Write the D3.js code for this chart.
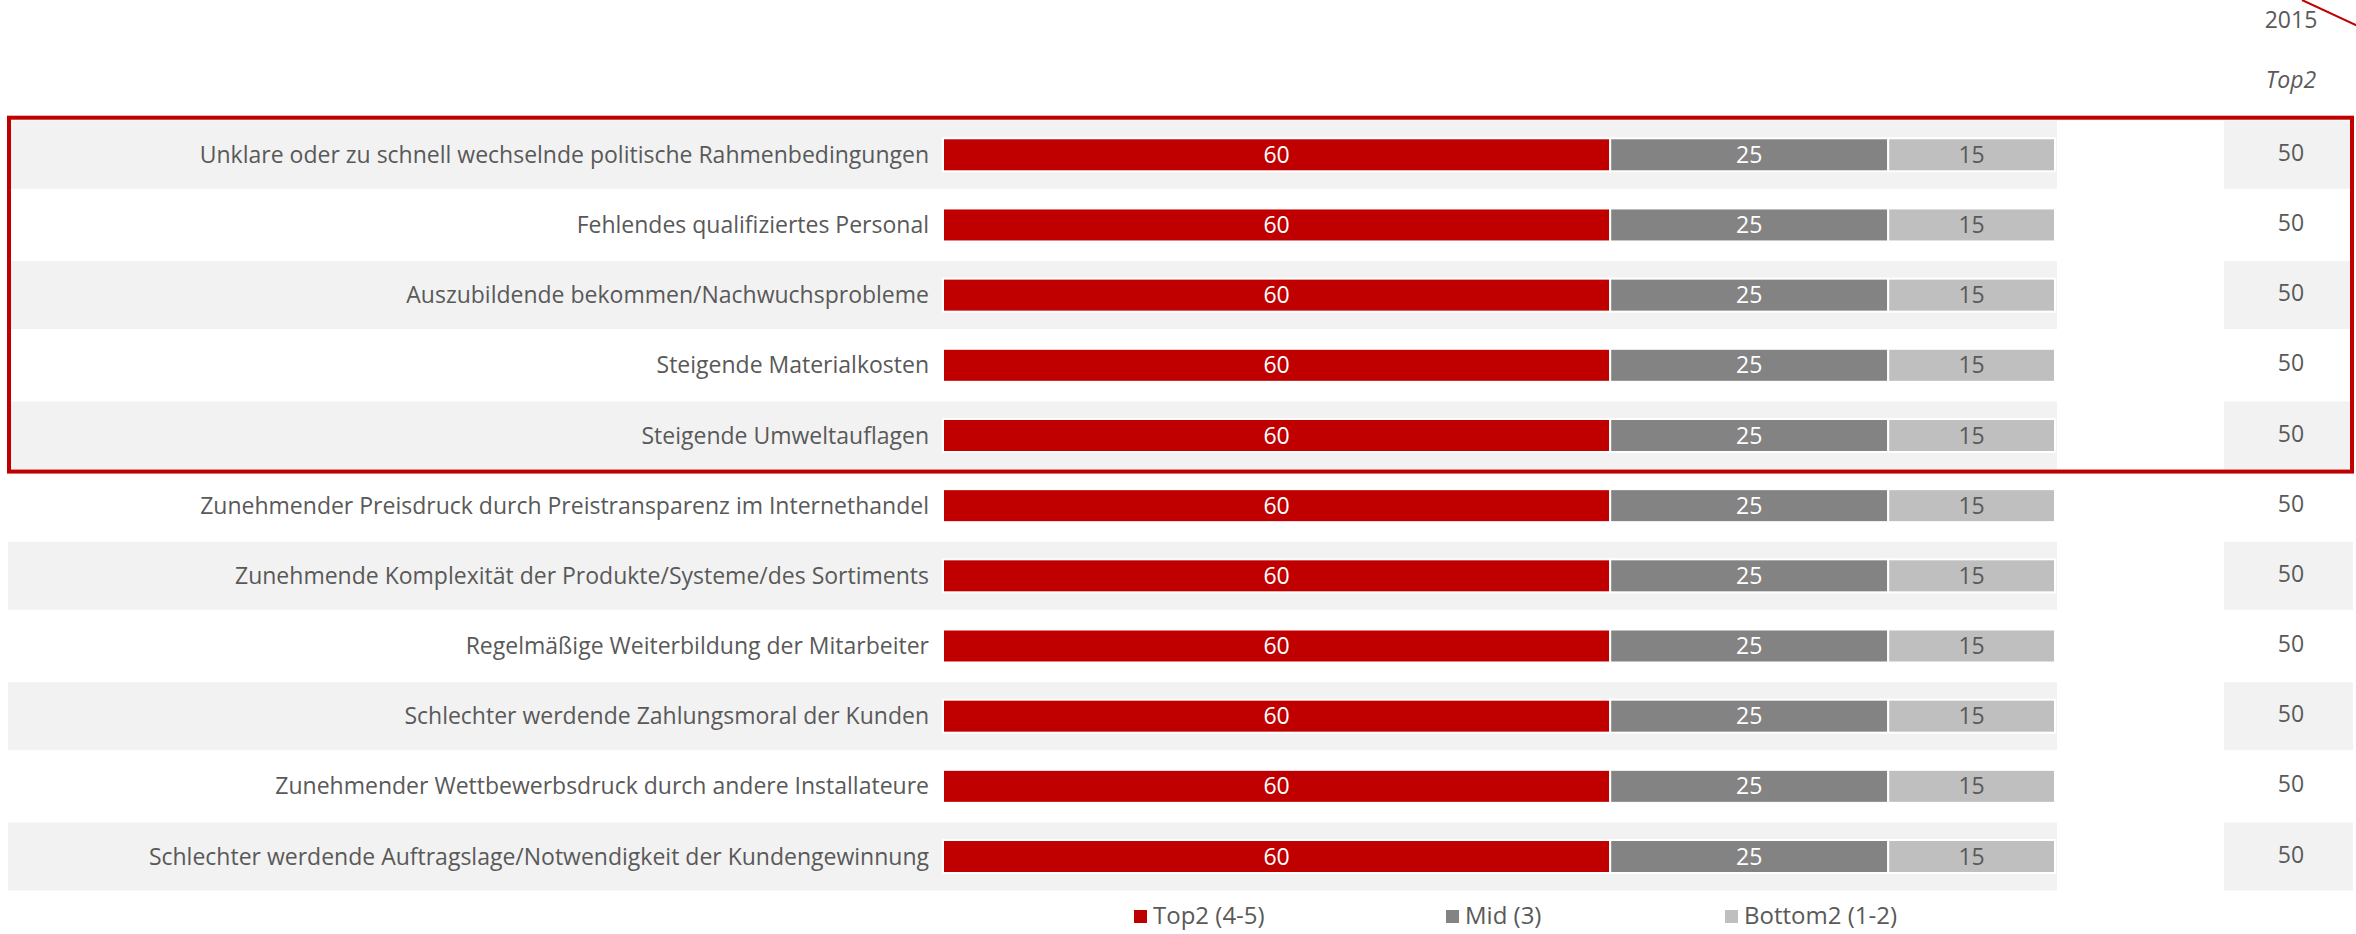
<!DOCTYPE html>
<html>
<head>
<meta charset="utf-8">
<script src="https://cdn.jsdelivr.net/npm/d3@7"></script>
<style>
  body { margin: 0; background: #fff; }
  text { font-family: "Open Sans", "Noto Sans", sans-serif; }
</style>
</head>
<body>
<div id="chart"></div>
<script>
// categories, top to bottom
const categories = [
  "Unklare oder zu schnell wechselnde politische Rahmenbedingungen",
  "Fehlendes qualifiziertes Personal",
  "Auszubildende bekommen/Nachwuchsprobleme",
  "Steigende Materialkosten",
  "Steigende Umweltauflagen",
  "Zunehmender Preisdruck durch Preistransparenz im Internethandel",
  "Zunehmende Komplexität der Produkte/Systeme/des Sortiments",
  "Regelmäßige Weiterbildung der Mitarbeiter",
  "Schlechter werdende Zahlungsmoral der Kunden",
  "Zunehmender Wettbewerbsdruck durch andere Installateure",
  "Schlechter werdende Auftragslage/Notwendigkeit der Kundengewinnung"
];
const top2 = [60, 60, 60, 60, 60, 60, 60, 60, 60, 60, 60];
const mid = [25, 25, 25, 25, 25, 25, 25, 25, 25, 25, 25];
const bottom2 = [15, 15, 15, 15, 15, 15, 15, 15, 15, 15, 15];
const top2015 = [50, 50, 50, 50, 50, 50, 50, 50, 50, 50, 50];
const seriesNames = ["Top2 (4-5)", "Mid (3)", "Bottom2 (1-2)"];
const seriesColors = ["#c00000", "#838383", "#bfbfbf"];
const labelColors = ["#ffffff", "#ffffff", "#595959"];
const highlighted = 5; // first n rows framed in red

const width = 2356, height = 934;

const svg = d3.select("#chart")
  .append("svg")
    .attr("width", width)
    .attr("height", height);

// scales
const x = d3.scaleLinear()
  .domain([0, 100])
  .range([943, 2055]);

const y = d3.scaleBand()
  .domain(categories)
  .range([119.7, 891.6])
  .padding(0);

const barH = 33, bandH = 68;

// stacked rows
const rows = categories.map((c, i) => ({
  name: c,
  values: [top2[i], mid[i], bottom2[i]],
  prev: top2015[i],
  idx: i
}));
const stack = d3.stack().keys([0, 1, 2]).value((d, k) => d.values[k]);
const layers = stack(rows);

// alternating grey row bands
svg.append("g")
  .selectAll("rect")
  .data(rows.filter(d => d.idx % 2 === 0))
  .enter()
  .append("rect")
    .attr("x", 8)
    .attr("y", d => y(d.name) + y.bandwidth() / 2 - bandH / 2)
    .attr("width", x(100) + 2 - 8)
    .attr("height", bandH)
    .style("fill", "#f2f2f2");

svg.append("g")
  .selectAll("rect")
  .data(rows.filter(d => d.idx % 2 === 0))
  .enter()
  .append("rect")
    .attr("x", 2224)
    .attr("y", d => y(d.name) + y.bandwidth() / 2 - bandH / 2)
    .attr("width", 129)
    .attr("height", bandH)
    .style("fill", "#f2f2f2");

// bar segments
const segs = svg.append("g")
  .selectAll("g")
  .data(layers)
  .enter()
  .append("g")
    .style("fill", (d, i) => seriesColors[i]);

segs.selectAll("rect")
  .data(d => d)
  .enter()
  .append("rect")
    .attr("x", d => x(d[0]))
    .attr("y", d => y(d.data.name) + y.bandwidth() / 2 - barH / 2)
    .attr("width", d => x(d[1]) - x(d[0]))
    .attr("height", barH)
    .attr("stroke", "#ffffff")
    .attr("stroke-width", 2);

// value labels on segments
layers.forEach((layer, k) => {
  svg.append("g")
    .selectAll("text")
    .data(layer)
    .enter()
    .append("text")
      .attr("x", d => (x(d[0]) + x(d[1])) / 2)
      .attr("y", d => y(d.data.name) + y.bandwidth() / 2)
      .attr("dy", "0.35em")
      .attr("text-anchor", "middle")
      .text(d => d[1] - d[0])
      .style("fill", labelColors[k])
      .style("font-size", "23px");
});

// category labels
svg.append("g")
  .selectAll("text")
  .data(rows)
  .enter()
  .append("text")
    .attr("x", 929)
    .attr("y", d => y(d.name) + y.bandwidth() / 2)
    .attr("dy", "0.35em")
    .attr("text-anchor", "end")
    .text(d => d.name)
    .style("fill", "#595959")
    .style("font-size", "23px");

// 2015 Top2 column
svg.append("g")
  .selectAll("text")
  .data(rows)
  .enter()
  .append("text")
    .attr("x", 2291)
    .attr("y", d => y(d.name) + y.bandwidth() / 2 - 2)
    .attr("dy", "0.35em")
    .attr("text-anchor", "middle")
    .text(d => d.prev)
    .style("fill", "#595959")
    .style("font-size", "23px");

svg.append("text")
  .attr("x", 2291)
  .attr("y", 28)
  .attr("text-anchor", "middle")
  .text("2015")
  .style("fill", "#595959")
  .style("font-size", "23px");

svg.append("text")
  .attr("x", 2291)
  .attr("y", 88)
  .attr("text-anchor", "middle")
  .text("Top2")
  .style("fill", "#595959")
  .style("font-style", "italic")
  .style("font-size", "23px");

// red accent line in the corner
svg.append("line")
  .attr("x1", 2302).attr("y1", 0)
  .attr("x2", 2358).attr("y2", 26)
  .style("stroke", "#c00000")
  .style("stroke-width", 2);

// red frame around highlighted rows
const frameTop = y(categories[0]) - 2;
const frameBottom = y(categories[highlighted - 1]) + y.bandwidth() + 1;
svg.append("rect")
  .attr("x", 9)
  .attr("y", frameTop)
  .attr("width", 2343)
  .attr("height", frameBottom - frameTop)
  .style("fill", "none")
  .style("stroke", "#c00000")
  .style("stroke-width", 4);

// legend
const legendX = [1134, 1446, 1725];
const legend = svg.append("g")
  .selectAll("g")
  .data(seriesNames)
  .enter()
  .append("g")
    .attr("transform", (d, i) => `translate(${legendX[i]}, 916)`);

legend.append("rect")
  .attr("x", 0)
  .attr("y", -6)
  .attr("width", 13)
  .attr("height", 13)
  .style("fill", (d, i) => seriesColors[i]);

legend.append("text")
  .attr("x", 19)
  .attr("y", 0)
  .attr("dy", "0.35em")
  .text(d => d)
  .style("fill", "#595959")
  .style("font-size", "24px");
</script>
</body>
</html>
